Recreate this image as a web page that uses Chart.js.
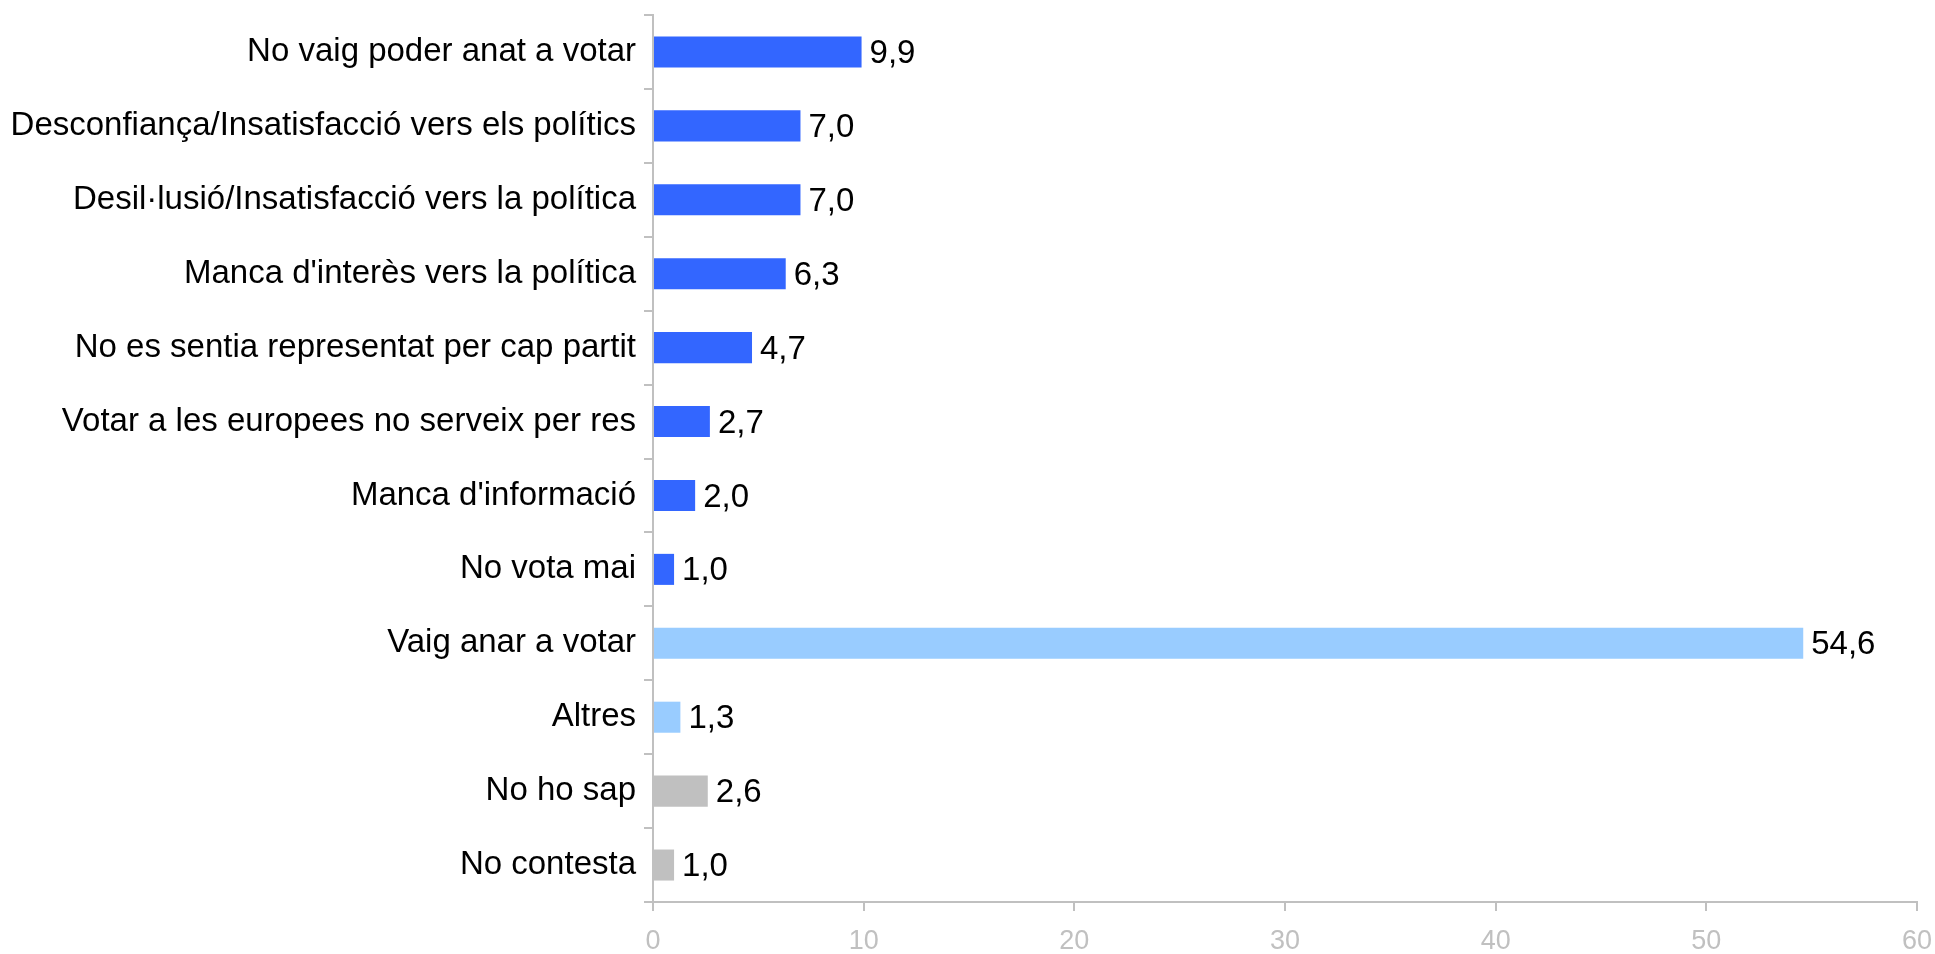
<!DOCTYPE html>
<html>
<head>
<meta charset="utf-8">
<script src="https://cdn.jsdelivr.net/npm/chart.js@4/dist/chart.umd.min.js"></script>
<style>
  html, body { margin: 0; padding: 0; background: #fff; }
  #wrap { width: 1935px; height: 954px; }
</style>
</head>
<body>
<div id="wrap"><canvas id="bar-chart"></canvas></div>
<script>
var reasons = [
  "No vaig poder anat a votar",
  "Desconfiança/Insatisfacció vers els polítics",
  "Desil·lusió/Insatisfacció vers la política",
  "Manca d'interès vers la política",
  "No es sentia representat per cap partit",
  "Votar a les europees no serveix per res",
  "Manca d'informació",
  "No vota mai",
  "Vaig anar a votar",
  "Altres",
  "No ho sap",
  "No contesta",
];

var percents = [9.9, 7.0, 7.0, 6.3, 4.7, 2.7, 2.0, 1.0, 54.6, 1.3, 2.6, 1.0];

var xTicks = [0, 10, 20, 30, 40, 50, 60];

var barColors = [
  "#3366ff", "#3366ff", "#3366ff", "#3366ff", "#3366ff", "#3366ff",
  "#3366ff", "#3366ff", "#99ccff", "#99ccff", "#c0c0c0", "#c0c0c0",
];

// labels at the end of each bar, with a decimal comma
var valueLabels = {
  id: "valueLabels",
  afterDatasetsDraw: function (chart) {
    var ctx = chart.ctx;
    var meta = chart.getDatasetMeta(0);
    ctx.save();
    ctx.font = "33px 'Liberation Sans', Arial, sans-serif";
    ctx.fillStyle = "#000";
    ctx.textAlign = "left";
    ctx.textBaseline = "middle";
    meta.data.forEach(function (bar, i) {
      var txt = percents[i].toFixed(1).replace(".", ",");
      ctx.fillText(txt, bar.x + 8, bar.y + 2);
    });
    ctx.restore();
  },
};

var config = {
  type: "bar",
  data: {
    labels: reasons,
    datasets: [
      {
        data: percents,
        backgroundColor: barColors,
        borderWidth: 0,
        categoryPercentage: 1,
        barPercentage: 0.42,
      },
    ],
  },
  options: {
    indexAxis: "y",
    responsive: false,
    animation: false,
    layout: { padding: { top: 15, right: 18, left: 0, bottom: 0 } },
    plugins: {
      legend: { display: false },
      tooltip: { enabled: false },
    },
    scales: {
      x: {
        min: 0,
        max: 60,
        afterBuildTicks: function (scale) {
          scale.ticks = xTicks.map(function (v) { return { value: v }; });
        },
        afterFit: function (scale) {
          scale.height = 52;
          scale.paddingLeft = 0;
          scale.paddingRight = 0;
        },
        grid: {
          drawOnChartArea: false,
          drawTicks: true,
          tickLength: 9,
          color: "#c0c0c0",
          lineWidth: 2,
        },
        border: { color: "#c0c0c0", width: 2 },
        ticks: {
          color: "#c0c0c0",
          padding: 14,
          font: { family: "'Liberation Sans', Arial, sans-serif", size: 27 },
        },
      },
      y: {
        afterFit: function (scale) {
          scale.width = 653;
          scale.paddingTop = 0;
          scale.paddingBottom = 0;
        },
        grid: {
          offset: true,
          drawOnChartArea: false,
          drawTicks: true,
          tickLength: 9,
          color: "#c0c0c0",
          lineWidth: 2,
        },
        border: { color: "#c0c0c0", width: 2 },
        ticks: {
          color: "#000",
          padding: 8,
          font: { family: "'Liberation Sans', Arial, sans-serif", size: 33 },
        },
      },
    },
  },
  plugins: [valueLabels],
};

var canvas = document.getElementById("bar-chart");
canvas.width = 1935;
canvas.height = 954;
new Chart(canvas.getContext("2d"), config);
</script>
</body>
</html>
